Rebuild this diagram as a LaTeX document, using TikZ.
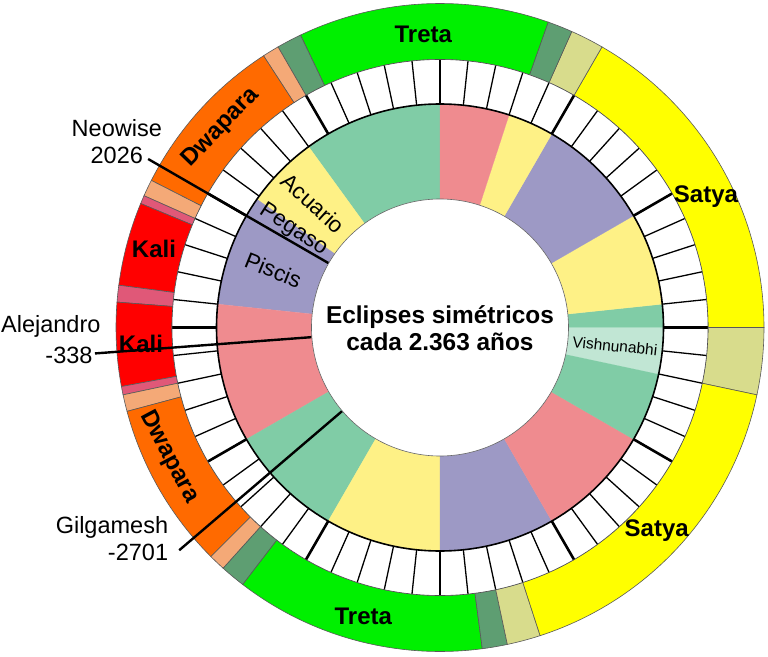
\documentclass[tikz,border=0pt]{standalone}
\usepackage{fontspec}
\setmainfont{Liberation Sans}
\definecolor{treta}{HTML}{00F000}
\definecolor{tretasandhi}{HTML}{5E9E72}
\definecolor{satya}{HTML}{FFFF00}
\definecolor{satyasandhi}{HTML}{D8DC8C}
\definecolor{dwapara}{HTML}{FF6A00}
\definecolor{dwaparasandhi}{HTML}{F4A977}
\definecolor{kali}{HTML}{FF0000}
\definecolor{kalisandhi}{HTML}{E05878}
\definecolor{zgreen}{HTML}{80CCA6}
\definecolor{zpink}{HTML}{EF8B8F}
\definecolor{zyellow}{HTML}{FEF186}
\definecolor{zpurple}{HTML}{9D99C5}
\definecolor{vishnu}{HTML}{C1E6D4}
\newcommand{\annsec}[5]{\path[#1] (#2:#4pt) -- (#2:#5pt) arc[start angle=#2, end angle=#3, radius=#5pt] -- (#3:#4pt) arc[start angle=#3, end angle=#2, radius=#4pt] -- cycle;}
\begin{document}
\begin{tikzpicture}[x=1pt,y=1pt,
  yuga/.style={font=\bfseries\fontsize{24}{28}\selectfont, inner sep=0pt},
  sign/.style={font=\fontsize{22.5}{26}\selectfont, inner sep=0pt},
  lbl/.style={font=\fontsize{23.5}{27}\selectfont, inner sep=0pt},
  title/.style={font=\bfseries\fontsize{24.4}{27}\selectfont, align=center, inner sep=0pt},
  seg/.style={draw=black!65, line width=0.6pt},
  zseg/.style={draw=#1, fill=#1, line width=0.2pt},
  tickthin/.style={line width=1.3pt},
  tickthick/.style={line width=2.6pt},
  pointer/.style={line width=2.4pt, black}]
\useasboundingbox (-440,-328.5) rectangle (328,327.5);
% outer ring (yugas)
\annsec{fill=satyasandhi,seg}{-12}{0}{268}{324}
\annsec{fill=satya,seg}{0}{60}{268}{324}
\annsec{fill=satyasandhi,seg}{60}{66}{268}{324}
\annsec{fill=tretasandhi,seg}{66}{70.5}{268}{324}
\annsec{fill=treta,seg}{70.5}{115.5}{268}{324}
\annsec{fill=tretasandhi,seg}{115.5}{120}{268}{324}
\annsec{fill=dwaparasandhi,seg}{120}{123}{268}{324}
\annsec{fill=dwapara,seg}{123}{153}{268}{324}
\annsec{fill=dwaparasandhi,seg}{153}{156}{268}{324}
\annsec{fill=kalisandhi,seg}{156}{157.5}{268}{324}
\annsec{fill=kali,seg}{157.5}{172.5}{268}{324}
\annsec{fill=kalisandhi,seg}{172.5}{175.5}{268}{324}
\annsec{fill=kali,seg}{175.5}{190.5}{268}{324}
\annsec{fill=kalisandhi,seg}{190.5}{192}{268}{324}
\annsec{fill=dwaparasandhi,seg}{192}{195}{268}{324}
\annsec{fill=dwapara,seg}{195}{225}{268}{324}
\annsec{fill=dwaparasandhi,seg}{225}{228}{268}{324}
\annsec{fill=tretasandhi,seg}{228}{232.5}{268}{324}
\annsec{fill=treta,seg}{232.5}{277.5}{268}{324}
\annsec{fill=tretasandhi,seg}{277.5}{282}{268}{324}
\annsec{fill=satyasandhi,seg}{282}{288}{268}{324}
\annsec{fill=satya,seg}{288}{348}{268}{324}
% tick ring
\fill[white] (0,0) circle[radius=268pt];
\foreach \a in {0,6,...,354} \draw[tickthin] (\a:223.5pt) -- (\a:268pt);
\foreach \a in {0,30,...,330} \draw[tickthick] (\a:223.5pt) -- (\a:268pt);
\draw[black!70, line width=0.6pt] (0,0) circle[radius=268pt];
% inner ring (constellations)
\annsec{zseg=zgreen}{90}{126}{128.5}{223.5}
\annsec{zseg=zyellow}{126}{145}{128.5}{223.5}
\annsec{zseg=zpurple}{145}{174}{128.5}{223.5}
\annsec{zseg=zpink}{174}{210}{128.5}{223.5}
\annsec{zseg=zgreen}{210}{240}{128.5}{223.5}
\annsec{zseg=zyellow}{240}{270}{128.5}{223.5}
\annsec{zseg=zpurple}{270}{300}{128.5}{223.5}
\annsec{zseg=zpink}{300}{330}{128.5}{223.5}
\annsec{zseg=zgreen}{330}{366}{128.5}{223.5}
\annsec{zseg=zyellow}{6}{30}{128.5}{223.5}
\annsec{zseg=zpurple}{30}{60}{128.5}{223.5}
\annsec{zseg=zyellow}{60}{72}{128.5}{223.5}
\annsec{zseg=zpink}{72}{90}{128.5}{223.5}
\annsec{zseg=vishnu}{-12}{0}{128.5}{223.5}
\draw[black, line width=1.6pt] (0,0) circle[radius=223.5pt];
% centre
\draw[fill=white, draw=black!60, line width=0.6pt] (0,0) circle[radius=128.5pt];
\node[title] (centre) at (0,-1) {Eclipses simétricos\\cada 2.363 años};
% yuga labels
\node[yuga] (tretaT) at (-16.7,293.5) {Treta};
\node[yuga] (tretaB) at (-76.7,-288.5) {Treta};
\node[yuga] (satyaU) at (266,130.5) {Satya};
\node[yuga] (satyaL) at (216.7,-203.5) {Satya};
\node[yuga] (kaliU) at (-286,79) {Kali};
\node[yuga] (kaliL) at (-299,-16) {Kali};
\node[yuga, rotate=46] (dwaparaU) at (-219.2,200) {Dwapara};
\node[yuga, rotate=-62] (dwaparaL) at (-271,-129.5) {Dwapara};
% constellation labels
\node[sign, rotate=-42] (acuario) at (-126.7,124.2) {Acuario};
\node[sign, rotate=-33] (pegaso) at (-146.7,97.5) {Pegaso};
\node[sign, rotate=-22] (piscis) at (-166.7,57.5) {Piscis};
\node[font=\fontsize{15.5}{18}\selectfont, inner sep=0pt, rotate=-6] (vishnunabhi) at (175,-18.5) {Vishnunabhi};
% event labels
\node[lbl, align=center] (neowise) at (-323.2,186) {Neowise\\2026};
\node[lbl] (alejandroA) at (-389.2,0.8) {Alejandro};
\node[lbl] (alejandroB) at (-371,-27.5) {-338};
\node[lbl, align=right, anchor=east] (gilgamesh) at (-271.7,-211.5) {Gilgamesh\\-2701};
% connectors
\coordinate (neoOut) at (150:337pt);
\coordinate (neoIn) at (150:129pt);
\coordinate (aleOut) at (184.3:346pt);
\coordinate (aleIn) at (184.3:129pt);
\coordinate (gilOut) at (220.5:343pt);
\coordinate (gilIn) at (220.5:129pt);
\draw[pointer] (neoOut) -- (neoIn);
\draw[pointer] (aleOut) -- (aleIn);
\draw[pointer] (gilOut) -- (gilIn);
\end{tikzpicture}
\end{document}
